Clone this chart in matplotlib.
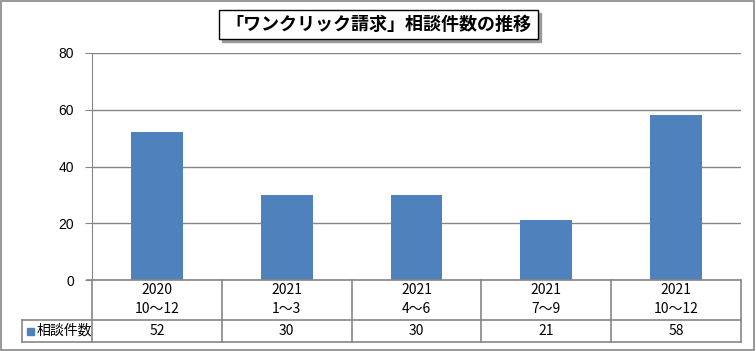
import matplotlib.pyplot as plt
from matplotlib.patches import Rectangle
from matplotlib.lines import Line2D

plt.rcParams['font.family'] = ['Noto Sans CJK JP', 'DejaVu Sans']

# data
years = ["2020", "2021", "2021", "2021", "2021"]
quarters = ["10～12", "1～3", "4～6", "7～9", "10～12"]
counts = [52, 30, 30, 21, 58]
series_name = "相談件数"
title = "「ワンクリック請求」相談件数の推移"

W, H = 756, 351
bar_color = "#4F81BD"
line_gray = "#868686"

fig = plt.figure(figsize=(W / 100, H / 100), dpi=100)


def fx(px):
    return px / W


def fy(py):
    return 1 - py / H


# outer frame
fig.add_artist(Rectangle((fx(0.5), fy(349.5)), fx(754) - fx(0.5), fy(0.5) - fy(349.5),
                         transform=fig.transFigure, fill=False, edgecolor=line_gray, lw=1.2))

# plot area
left, right, top, zero = 92, 741, 53, 280
ax = fig.add_axes([fx(left), fy(zero), fx(right) - fx(left), fy(top) - fy(zero)])
x = list(range(len(counts)))
ax.bar(x, counts, width=0.4, color=bar_color, zorder=3)
ax.set_xlim(-0.5, len(counts) - 0.5)
ax.set_ylim(0, 80)
ax.set_yticks([0, 20, 40, 60, 80])
ax.yaxis.grid(True, color=line_gray, lw=1)
ax.set_xticks([])
for s in ["top", "right", "bottom"]:
    ax.spines[s].set_visible(False)
ax.spines["left"].set_color(line_gray)
ax.tick_params(axis="y", length=5, color=line_gray, labelsize=10, pad=8)
for lab in ax.get_yticklabels():
    lab.set_family(['Liberation Sans', 'DejaVu Sans'])

# data table under the axis
row1, row2 = 320, 342
col_w = (right - left) / len(counts)
tr = fig.transFigure
def hline(x0, x1, y):
    fig.add_artist(Line2D([fx(x0), fx(x1)], [fy(y), fy(y)], transform=tr, color=line_gray, lw=1.2))
def vline(xp, y0, y1):
    fig.add_artist(Line2D([fx(xp), fx(xp)], [fy(y0), fy(y1)], transform=tr, color=line_gray, lw=1.2))

hline(left - 5, right, zero)
hline(22, right, row1)
hline(22, right, row2)
vline(22, row1, row2)
for i in range(len(counts) + 1):
    vline(left + i * col_w, zero, row2)

for i in range(len(counts)):
    cx = fx(left + (i + 0.5) * col_w)
    fig.text(cx, fy(290), years[i], ha="center", va="center", fontsize=10)
    fig.text(cx, fy(309), quarters[i], ha="center", va="center", fontsize=10)
    fig.text(cx, fy(331), str(counts[i]), ha="center", va="center", fontsize=10)

fig.add_artist(Rectangle((fx(27), fy(335)), fx(7) - fx(0), fy(0) - fy(7),
                         transform=tr, color=bar_color))
fig.text(fx(37), fy(331), series_name, ha="left", va="center", fontsize=10)

# title box with shadow
bx0, bx1, by0, by1 = 219, 538, 10, 39
fig.add_artist(Rectangle((fx(bx0 + 3), fy(by1 + 3)), fx(bx1) - fx(bx0), fy(by0) - fy(by1),
                         transform=tr, color="#9a9a9a", zorder=4))
fig.add_artist(Rectangle((fx(bx0), fy(by1)), fx(bx1) - fx(bx0), fy(by0) - fy(by1),
                         transform=tr, facecolor="white", edgecolor="black", lw=1, zorder=5))
fig.text(fx((bx0 + bx1) / 2), fy(24.5), title, ha="center", va="center",
         fontsize=13, fontweight="bold", zorder=6)

fig.savefig("out.png", dpi=100)
